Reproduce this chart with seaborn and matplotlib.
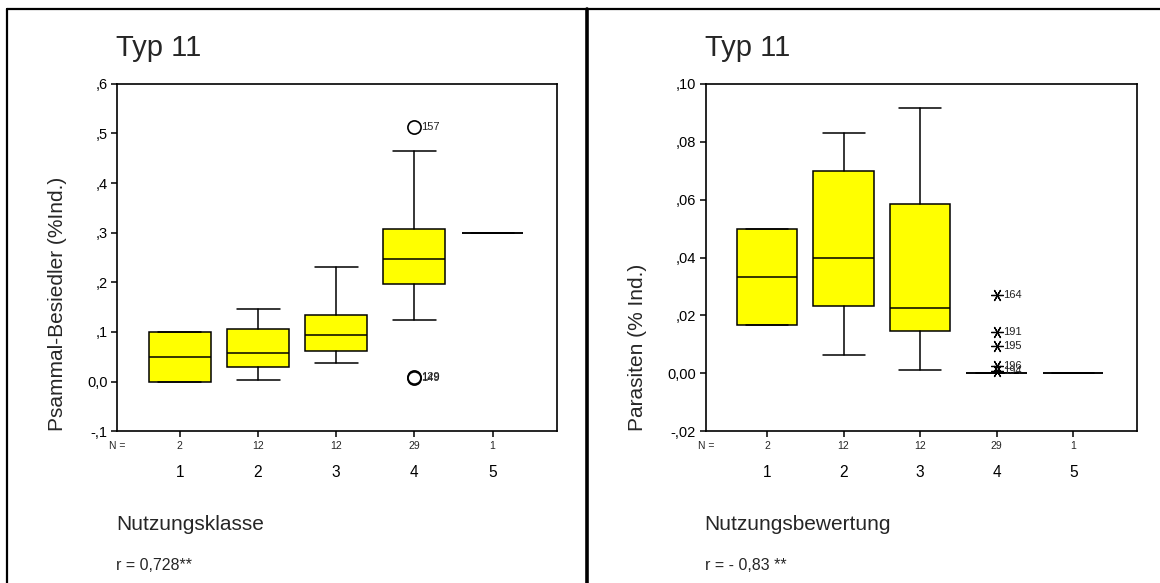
import matplotlib
matplotlib.use("Agg")
import matplotlib.pyplot as plt
import seaborn as sns
from matplotlib.lines import Line2D

# ---------------- data ----------------
categories = ["1", "2", "3", "4", "5"]
n_counts = [2, 12, 12, 29, 1]

# left panel: Psammal-Besiedler (%Ind.) by Nutzungsklasse
psam_q1 = [0.000, 0.030, 0.061, 0.197, 0.300]
psam_med = [0.049, 0.058, 0.094, 0.2465, 0.300]
psam_q3 = [0.100, 0.1065, 0.1335, 0.307, 0.300]
psam_lo = [0.000, 0.003, 0.037, 0.125, 0.300]
psam_hi = [0.100, 0.146, 0.231, 0.465, 0.300]
psam_out_cat = ["4", "4", "4"]
psam_out_val = [0.513, 0.0085, 0.0065]
psam_out_id = ["157", "129", "149"]
psam_yticks = [-0.1, 0.0, 0.1, 0.2, 0.3, 0.4, 0.5, 0.6]
psam_yticklabels = ["-,1", "0,0", ",1", ",2", ",3", ",4", ",5", ",6"]

# right panel: Parasiten (% Ind.) by Nutzungsbewertung
para_q1 = [0.0167, 0.0231, 0.0147, 0.0, 0.0]
para_med = [0.0333, 0.0397, 0.0224, 0.0, 0.0]
para_q3 = [0.0500, 0.0699, 0.0583, 0.0, 0.0]
para_lo = [0.0167, 0.0063, 0.0010, 0.0, 0.0]
para_hi = [0.0500, 0.0830, 0.0917, 0.0, 0.0]
para_out_cat = ["4", "4", "4", "4", "4"]
para_out_val = [0.0272, 0.0144, 0.0096, 0.0024, 0.0008]
para_out_id = ["164", "191", "195", "196", "194"]
para_yticks = [-0.02, 0.0, 0.02, 0.04, 0.06, 0.08, 0.10]
para_yticklabels = ["-,02", "0,00", ",02", ",04", ",06", ",08", ",10"]

# ---------------- style ----------------
sns.set_style("ticks")
plt.rcParams["font.family"] = ["Liberation Sans", "DejaVu Sans"]

W, H = 1160, 583
fig = plt.figure(figsize=(W / 100, H / 100), dpi=100)


def fx(x):
    return x / W


def fy(y):
    return 1 - y / H


def make_axes(x0, x1, y0=83.7, y1=431.3):
    return fig.add_axes([fx(x0), fy(y1), (x1 - x0) / W, (y1 - y0) / H])


def draw_panel(ax, q1, med, q3, lo, hi, out_cat, out_val, out_id,
               marker, msize, mfc, mew, yticks, yticklabels, ylim):
    pos = list(range(len(categories)))
    stats = [dict(med=m, q1=a, q3=b, whislo=l, whishi=h, fliers=[])
             for a, m, b, l, h in zip(q1, med, q3, lo, hi)]
    ax.bxp(stats, positions=pos, widths=0.79, capwidths=0.55,
           patch_artist=True, showfliers=False,
           boxprops=dict(facecolor="#ffff00", edgecolor="black", linewidth=1.1),
           medianprops=dict(color="black", linewidth=1.1),
           whiskerprops=dict(color="black", linewidth=1.1),
           capprops=dict(color="black", linewidth=1.1))
    xs = [categories.index(c) for c in out_cat]
    ax.plot(xs, out_val, linestyle="none", marker=marker, markersize=msize,
            markerfacecolor=mfc, markeredgecolor="black", markeredgewidth=mew,
            color="black")
    for x, y, t in zip(xs, out_val, out_id):
        ax.annotate(t, (x, y), xytext=(5, 0), textcoords="offset points",
                    va="center", ha="left", fontsize=8, color="#222222")
    ax.set_xlim(-0.80, 4.83)
    ax.set_ylim(*ylim)
    ax.set_yticks(yticks)
    ax.set_yticklabels(yticklabels, fontsize=10.5)
    ax.set_xticks(pos)
    ax.set_xticklabels(categories, fontsize=11.2)
    ax.tick_params(axis="both", direction="out", length=4, width=1.1,
                   color="black", labelcolor="black")
    ax.tick_params(axis="x", pad=20)
    ax.tick_params(axis="y", pad=3)
    for s in ax.spines.values():
        s.set_visible(True)
        s.set_linewidth(1.2)
        s.set_color("black")
    trans = ax.get_xaxis_transform()
    for i, n in enumerate(n_counts):
        ax.text(i, -0.041, str(n), transform=trans, ha="center", va="center",
                fontsize=7.5)
    ax.text(0.0, -0.041, "N =", transform=ax.transAxes, ha="center",
            va="center", fontsize=7.5)
    ax.set_xlabel("")
    ax.set_ylabel("")


# left panel
axL = make_axes(117.3, 557.4)
draw_panel(axL, psam_q1, psam_med, psam_q3, psam_lo, psam_hi,
           psam_out_cat, psam_out_val, psam_out_id,
           "o", 9.5, "none", 1.2, psam_yticks, psam_yticklabels, (-0.1, 0.6))

# right panel
axR = make_axes(705.8, 1136.7)
draw_panel(axR, para_q1, para_med, para_q3, para_lo, para_hi,
           para_out_cat, para_out_val, para_out_id,
           (6, 2, 90), 9, "black", 0.9, para_yticks, para_yticklabels, (-0.02, 0.10))

# texts
fig.text(fx(115.8), fy(47.6), "Typ 11", fontsize=21, ha="left", va="center")
fig.text(fx(704.7), fy(47.6), "Typ 11", fontsize=21, ha="left", va="center")
fig.text(fx(57.4), fy(431.3), "Psammal-Besiedler (%Ind.)", fontsize=15,
         rotation=90, ha="center", va="bottom")
fig.text(fx(637.4), fy(431.3), "Parasiten (% Ind.)", fontsize=15,
         rotation=90, ha="center", va="bottom")
fig.text(fx(115.8), fy(524), "Nutzungsklasse", fontsize=15, ha="left", va="center")
fig.text(fx(704.7), fy(524), "Nutzungsbewertung", fontsize=15, ha="left", va="center")
fig.text(fx(115.8), fy(565), "r = 0,728**", fontsize=11.5, ha="left", va="center")
fig.text(fx(704.7), fy(565), "r = - 0,83 **", fontsize=11.5, ha="left", va="center")

# panel frames
fig.add_artist(Line2D([fx(7.3), fx(1160)], [fy(9.3), fy(9.3)],
                      transform=fig.transFigure, color="black", linewidth=1.6))
fig.add_artist(Line2D([fx(7.3), fx(7.3)], [fy(9.3), fy(583)],
                      transform=fig.transFigure, color="black", linewidth=1.6))
fig.add_artist(Line2D([fx(587), fx(587)], [fy(9.3), fy(583)],
                      transform=fig.transFigure, color="black", linewidth=2.6))

fig.savefig("out.png", dpi=100, facecolor="white")
